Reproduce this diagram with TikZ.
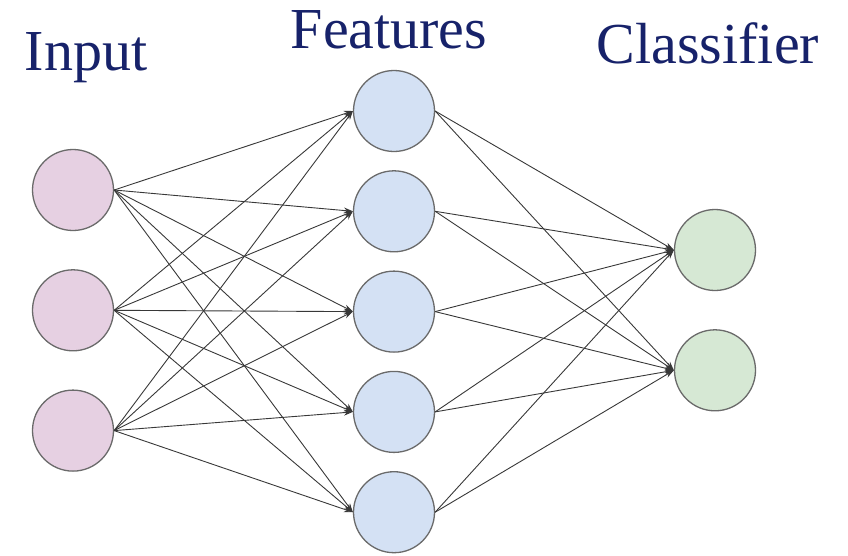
\documentclass[tikz,border=0pt]{standalone}
\usepackage{fontspec}
\setmainfont{Liberation Serif}
\usetikzlibrary{arrows.meta,positioning}
\definecolor{inpink}{HTML}{E6D0E2}
\definecolor{featblue}{HTML}{D4E1F4}
\definecolor{clsgreen}{HTML}{D6E8D4}
\definecolor{ringgray}{HTML}{6A6A6A}
\definecolor{edgegray}{HTML}{383838}
\definecolor{labelblue}{HTML}{17226A}
\tikzset{
    neuron/.style={draw=ringgray, circle, line width=1.3pt,
        minimum size=81pt, inner sep=0pt},
    netarrow/.style={-{Stealth[length=9pt,width=6pt]}, line width=0.9pt, edgegray},
    layerlabel/.style={anchor=base, text=labelblue, font=\fontsize{58}{60}\selectfont}
}
\begin{document}
\begin{tikzpicture}[x=1pt, y=-1pt, node distance=38pt]
\useasboundingbox (0,0) rectangle (848,555);
% layer titles
\node[layerlabel] (tin) at (86,70) {Input};
\node[layerlabel] (tfeat) at (389,48) {Features};
\node[layerlabel] (tcls) at (708,63) {Classifier};
% input layer
\node[neuron, fill=inpink] (in1) at (73,190) {};
\node[neuron, fill=inpink, below=of in1] (in2) {};
\node[neuron, fill=inpink, below=of in2] (in3) {};
% feature layer
\node[neuron, fill=featblue] (f1) at (394,111) {};
\node[neuron, fill=featblue, below=18pt of f1] (f2) {};
\node[neuron, fill=featblue, below=18pt of f2] (f3) {};
\node[neuron, fill=featblue, below=18pt of f3] (f4) {};
\node[neuron, fill=featblue, below=18pt of f4] (f5) {};
% classifier layer
\node[neuron, fill=clsgreen] (c1) at (715,250) {};
\node[neuron, fill=clsgreen, below=of c1] (c2) {};
% connections
\foreach \i in {1,2,3}
    \foreach \j in {1,...,5}
        \draw[netarrow] (in\i.east) -- (f\j.west);
\foreach \j in {1,...,5}
    \foreach \k in {1,2}
        \draw[netarrow] (f\j.east) -- (c\k.west);
\end{tikzpicture}
\end{document}
